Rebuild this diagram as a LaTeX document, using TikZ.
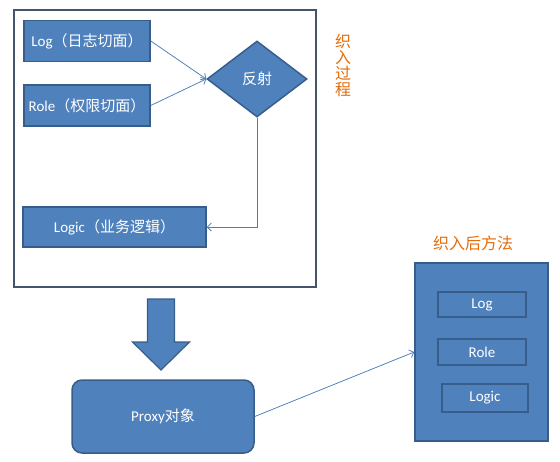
\documentclass[tikz,border=0pt]{standalone}
\usepackage{fontspec}
\setmainfont{Carlito}
\newfontfamily\cjk{Noto Sans CJK SC}
\usepackage{tikz}
\usetikzlibrary{arrows.meta, positioning, shapes.geometric}

\definecolor{boxfill}{HTML}{4F81BD}
\definecolor{boxline}{HTML}{385D8A}
\definecolor{frameline}{HTML}{44546A}
\definecolor{linkline}{HTML}{4A7EBB}
\definecolor{titleorange}{HTML}{E46C0A}

\begin{document}
\begin{tikzpicture}[x=1pt, y=-1pt,
        b/.style={rectangle, draw=boxline, line width=1.5pt, fill=boxfill,
                  text=white, inner sep=0pt, font=\fontsize{15}{17}\selectfont},
        sub/.style={b, line width=1.2pt},
        dia/.style={diamond, draw=boxline, line width=1.5pt, fill=boxfill, text=white,
                    inner sep=0pt, font=\cjk\fontsize{15}{17}\selectfont},
        arr/.style={-{Straight Barb[length=4pt,width=8pt]}, linkline, line width=0.75pt},
        ttl/.style={text=titleorange, font=\cjk\fontsize{16}{16}\selectfont, align=center}]
      \useasboundingbox (0,0) rectangle (560,461);
      % weaving process frame
      \node[draw=frameline, line width=1.6pt, minimum width=302pt, minimum height=277pt,
            inner sep=0pt] (frame) at (165,148.5) {};
      \node[b, minimum width=126pt, minimum height=41pt] (log) at (87,41) {Log{\cjk （日志切面）}};
      \node[b, minimum width=126pt, minimum height=41pt] (role) at (87,105.5) {Role{\cjk （权限切面）}};
      \node[dia, minimum width=100pt, minimum height=76pt] (refl) at (257,79) {反射};
      \node[b, minimum width=183pt, minimum height=40pt] (logic) at (114.5,227) {Logic{\cjk （业务逻辑）}};
      \draw[arr] (log.east) -- (refl.west);
      \draw[arr] (role.east) -- (refl.west);
      \draw[arr] (refl.south) |- (logic.east);
      \node[ttl] (t1) at (343,65) {织\\入\\过\\程};
      % big arrow down
      \draw[boxline, line width=1.2pt, fill=boxfill]
        (147.5,299) -- (174.5,299) -- (174.5,342) -- (189.5,342) -- (161,370)
        -- (132.5,342) -- (147.5,342) -- cycle;
      \node[b, rounded corners=10pt, minimum width=182pt, minimum height=73pt] (proxy)
        at (163,416.5) {Proxy{\cjk 对象}};
      % woven method
      \node[ttl] (t2) at (473,243) {织入后方法};
      \node[b, minimum width=133pt, minimum height=178pt] (woven) at (481.5,352) {};
      \node[sub, minimum width=88pt, minimum height=25pt] (wlog) at (482,304.5) {Log};
      \node[sub, minimum width=88pt, minimum height=26pt] (wrole) at (482,352) {Role};
      \node[sub, minimum width=86pt, minimum height=28pt] (wlogic) at (485,398) {Logic};
      \draw[arr] (proxy.east) -- (woven.west);
    \end{tikzpicture}
\end{document}
